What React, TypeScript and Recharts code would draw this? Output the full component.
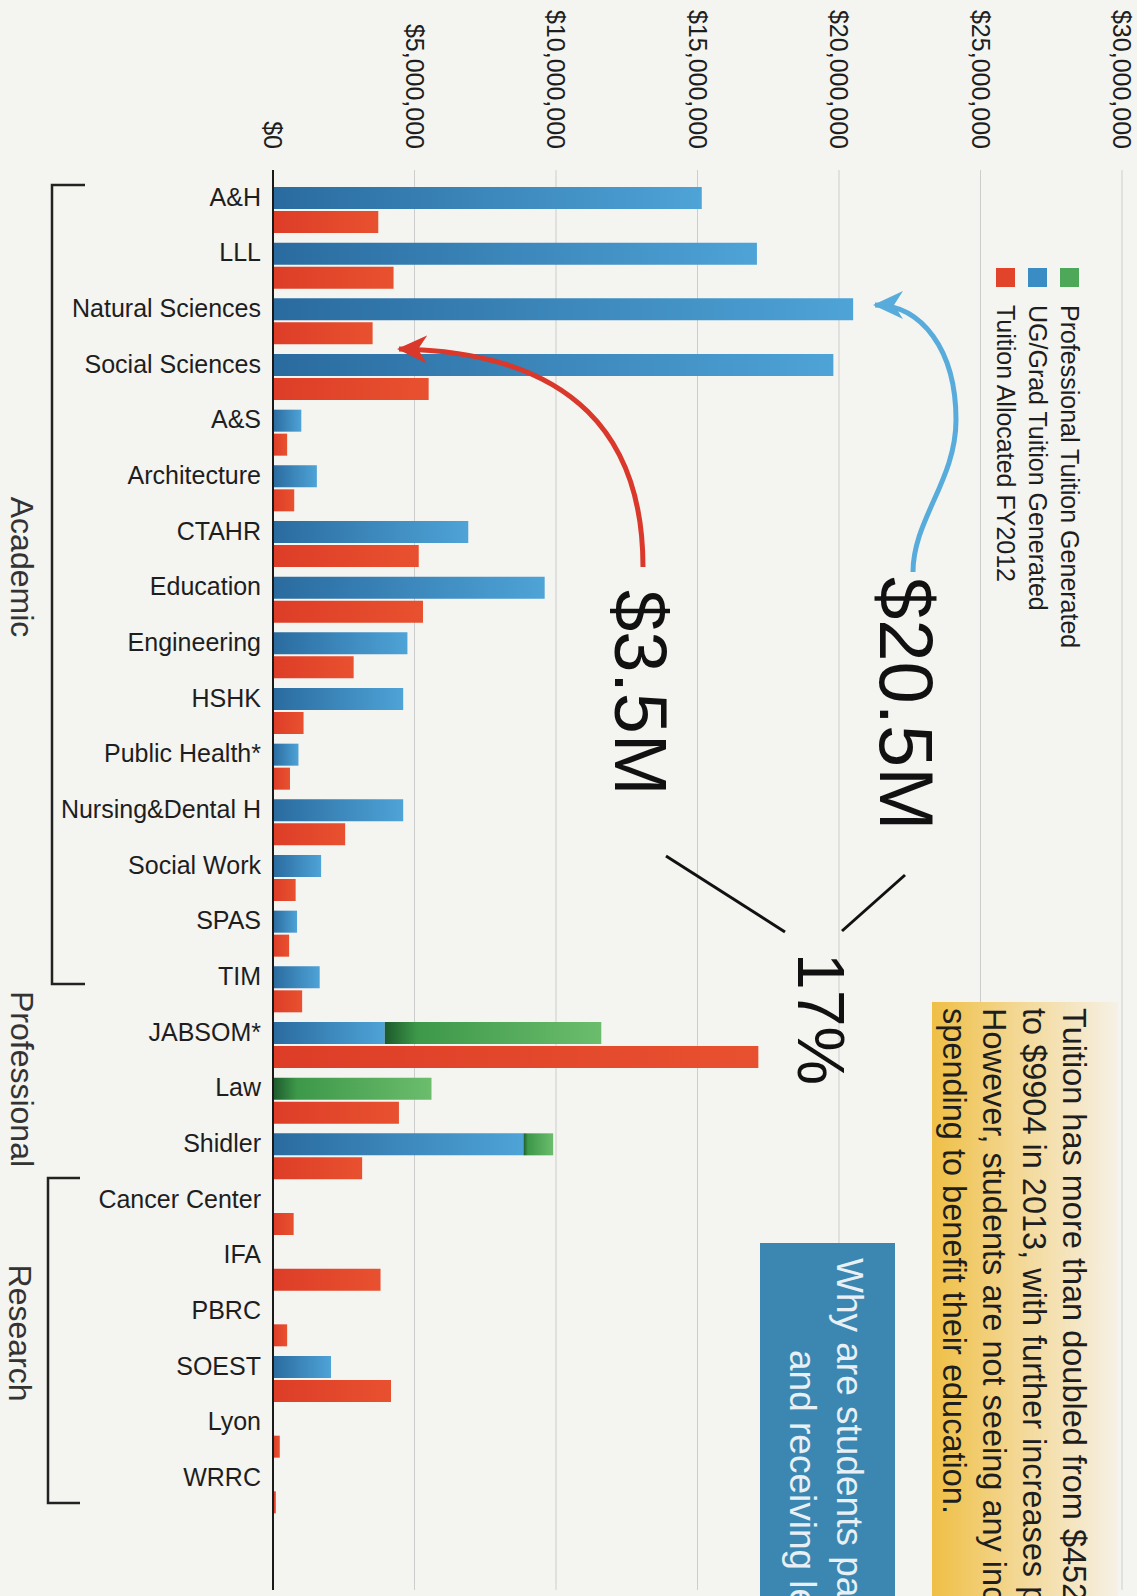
import { BarChart, Bar, XAxis, YAxis, CartesianGrid, Legend } from 'recharts'

// Chart is laid out as a normal column chart, then the whole page is turned 90deg clockwise
const FONT = '"Liberation Sans", Arial, Helvetica, sans-serif'

const categories = [
  'A&H', 'LLL', 'Natural Sciences', 'Social Sciences', 'A&S', 'Architecture', 'CTAHR',
  'Education', 'Engineering', 'HSHK', 'Public Health*', 'Nursing&Dental H', 'Social Work',
  'SPAS', 'TIM', 'JABSOM*', 'Law', 'Shidler', 'Cancer Center', 'IFA', 'PBRC', 'SOEST',
  'Lyon', 'WRRC',
]

// values in $ millions
const ugGradTuition = [
  15.15, 17.1, 20.5, 19.8, 1.0, 1.55, 6.9, 9.6, 4.75, 4.6, 0.9, 4.6, 1.7, 0.85, 1.65,
  3.95, 0, 8.85, 0, 0, 0, 2.05, 0, 0,
]
const professionalTuition = [
  0, 0, 0, 0, 0, 0, 0, 0, 0, 0, 0, 0, 0, 0, 0,
  7.65, 5.6, 1.05, 0, 0, 0, 0, 0, 0,
]
const tuitionAllocated = [
  3.72, 4.26, 3.52, 5.5, 0.5, 0.75, 5.15, 5.3, 2.85, 1.08, 0.6, 2.55, 0.8, 0.57, 1.03,
  17.15, 4.45, 3.15, 0.73, 3.8, 0.5, 4.17, 0.24, 0.1,
]

const valueTicks = [0, 5000000, 10000000, 15000000, 20000000, 25000000, 30000000]

const legendItems = [
  { label: 'Professional Tuition Generated', color: '#4ea85a' },
  { label: 'UG/Grad Tuition Generated', color: '#3a8cc4' },
  { label: 'Tuition Allocated FY2012', color: '#e2432b' },
]

const noteLines = [
  'Tuition has more than doubled from $452',
  'to $9904 in 2013, with further increases p',
  'However, students are not seeing any inc',
  'spending to benefit their education.',
]

const data = categories.map((name, i) => ({
  name,
  ugGrad: ugGradTuition[i] * 1e6,
  professional: professionalTuition[i] * 1e6,
  allocated: tuitionAllocated[i] * 1e6,
}))

const formatMoney = (v: number) => '$' + v.toLocaleString('en-US')

const CategoryTick = (props: any) => {
  const { x, y, payload } = props
  const cx = x - 13
  return (
    <text
      x={cx}
      y={y}
      dy="0.35em"
      transform={`rotate(-90 ${cx} ${y})`}
      textAnchor="end"
      fontSize={25}
      fill="#1e1e1e"
      fontFamily={FONT}
    >
      {payload.value}
    </text>
  )
}

const LegendBox = () => (
  <div style={{ fontFamily: FONT, fontSize: 25, color: '#1e1e1e' }}>
    {legendItems.map((item) => (
      <div key={item.label} style={{ display: 'flex', alignItems: 'center', height: 32, whiteSpace: 'nowrap' }}>
        <span style={{ width: 19, height: 19, background: item.color, marginRight: 18, display: 'inline-block' }} />
        <span>{item.label}</span>
      </div>
    ))}
  </div>
)

const Annotations = () => (
  <svg
    width={1596}
    height={1137}
    style={{ position: 'absolute', left: 0, top: 0, pointerEvents: 'none' }}
    fontFamily={FONT}
  >
    <defs>
      <linearGradient id="noteGrad" x1="0" y1="1" x2="0" y2="0">
        <stop offset="0%" stopColor="#efbf45" />
        <stop offset="45%" stopColor="#f3d792" />
        <stop offset="100%" stopColor="#f6f1e6" />
      </linearGradient>
      <marker id="headBlue" markerUnits="userSpaceOnUse" markerWidth={32} markerHeight={28} refX={28} refY={14} orient="auto">
        <path d="M0,0 L30,14 L0,28 L9,14 z" fill="#58acdb" />
      </marker>
      <marker id="headRed" markerUnits="userSpaceOnUse" markerWidth={32} markerHeight={28} refX={28} refY={14} orient="auto">
        <path d="M0,0 L30,14 L0,28 L9,14 z" fill="#d9382a" />
      </marker>
    </defs>

    {/* yellow note */}
    <rect x={1002} y={19} width={700} height={186} fill="url(#noteGrad)" />
    <g fontSize={32.5} fill="#1e1e1e">
      {noteLines.map((line, i) => (
        <text key={line} x={1008} y={74 + i * 40}>{line}</text>
      ))}
    </g>

    {/* blue question box */}
    <rect x={1243} y={242} width={500} height={135} fill="#3b87b1" />
    <g fontSize={37} fill="#e8f0f5">
      <text x={1258} y={300}>Why are students paying more</text>
      <text x={1350} y={347}>and receiving less?</text>
    </g>

    {/* callouts */}
    <text x={577} y={257} fontSize={76} fill="#111">$20.5M</text>
    <text x={590} y={522} fontSize={74} fill="#111">$3.5M</text>
    <text x={953} y={339} fontSize={66} fill="#111">17%</text>
    <line x1={856} y1={471} x2={932} y2={352} stroke="#111" strokeWidth={3} />
    <line x1={931} y1={295} x2={875} y2={232} stroke="#111" strokeWidth={3} />
    <path
      d="M 572 224 C 520 224, 480 181, 420 181 C 350 181, 305 215, 305 262"
      fill="none"
      stroke="#58acdb"
      strokeWidth={5}
      markerEnd="url(#headBlue)"
    />
    <path
      d="M 567 494 C 440 494, 352 560, 349 738"
      fill="none"
      stroke="#d9382a"
      strokeWidth={5}
      markerEnd="url(#headRed)"
    />

    {/* group brackets */}
    <g stroke="#222" strokeWidth={2.5} fill="none">
      <path d="M 185 1052 L 185 1085 L 984 1085 L 984 1052" />
      <path d="M 1178 1057 L 1178 1089 L 1503 1089 L 1503 1057" />
    </g>
    <g fontSize={32} fill="#333" textAnchor="middle">
      <text x={567} y={1126}>Academic</text>
      <text x={1079} y={1126}>Professional</text>
      <text x={1333} y={1128}>Research</text>
    </g>
  </svg>
)

export default function App() {
  return (
    <div
      style={{
        position: 'absolute',
        left: 0,
        top: 0,
        width: 1137,
        height: 1596,
        overflow: 'hidden',
        background: '#f4f4f1',
      }}
    >
      <div
        style={{
          position: 'absolute',
          left: 0,
          top: 0,
          width: 1596,
          height: 1137,
          transformOrigin: '0 0',
          transform: 'translate(1137px, 0px) rotate(90deg)',
        }}
      >
        <BarChart
          width={1596}
          height={1137}
          data={data}
          margin={{ top: 15, right: 6, bottom: 0, left: 0 }}
          barGap={2}
          barSize={22}
        >
          <defs>
            <linearGradient id="blueGrad" x1="0" y1="1" x2="0" y2="0">
              <stop offset="0%" stopColor="#2a6b9f" />
              <stop offset="100%" stopColor="#4ea3d7" />
            </linearGradient>
            <linearGradient id="greenGrad" x1="0" y1="1" x2="0" y2="0">
              <stop offset="0%" stopColor="#1d5a2c" />
              <stop offset="15%" stopColor="#3d9849" />
              <stop offset="100%" stopColor="#6bbd6c" />
            </linearGradient>
            <linearGradient id="redGrad" x1="0" y1="1" x2="0" y2="0">
              <stop offset="0%" stopColor="#dd3d27" />
              <stop offset="100%" stopColor="#e8512f" />
            </linearGradient>
          </defs>
          <CartesianGrid vertical={false} stroke="#cdcdcd" strokeWidth={1} />
          <XAxis
            dataKey="name"
            interval={0}
            tickLine={false}
            tickSize={0}
            tickMargin={12}
            axisLine={{ stroke: '#1a1a1a', strokeWidth: 2 }}
            padding={{ left: 12, right: 72 }}
            height={273}
            tick={<CategoryTick />}
          />
          <YAxis
            domain={[0, 30000000]}
            ticks={valueTicks}
            tickFormatter={formatMoney}
            axisLine={false}
            tickLine={false}
            tickSize={0}
            tickMargin={21}
            width={170}
            tick={{ fontSize: 25, fill: '#1e1e1e', fontFamily: FONT }}
          />
          <Legend
            layout="horizontal"
            verticalAlign="middle"
            align="center"
            wrapperStyle={{ position: 'absolute', left: 268, top: 51, width: 600 }}
            content={() => <LegendBox />}
          />
          <Bar dataKey="ugGrad" stackId="gen" fill="url(#blueGrad)" isAnimationActive={false} />
          <Bar dataKey="professional" stackId="gen" fill="url(#greenGrad)" isAnimationActive={false} />
          <Bar dataKey="allocated" fill="url(#redGrad)" isAnimationActive={false} />
        </BarChart>
        <Annotations />
      </div>
    </div>
  )
}
